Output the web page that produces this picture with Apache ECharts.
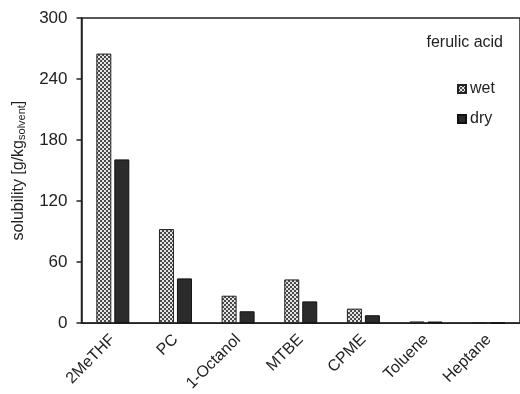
<!DOCTYPE html>
<html><head><meta charset="utf-8">
<script src="https://cdn.jsdelivr.net/npm/echarts@6/dist/echarts.min.js"></script>
<style>html,body{margin:0;padding:0;background:#fff}#c{width:520px;height:394px}</style>
</head><body><div id="c"></div>
<script>
const categories = ['2MeTHF','PC','1-Octanol','MTBE','CPME','Toluene','Heptane'];
const wetValues = [265, 92.5, 27, 43, 14.3, 1.7, 0.4];
const dryValues = [161, 44, 11.7, 21.4, 7.8, 1.6, 0.4];
const yTicks = [0, 60, 120, 180, 240, 300];
const seriesNames = ['wet', 'dry'];

function makePattern() {
  const c = document.createElement('canvas');
  c.width = 4; c.height = 4;
  const g = c.getContext('2d');
  g.fillStyle = '#e4e4e4'; g.fillRect(0,0,4,4);
  g.fillStyle = '#4a4a4a'; g.fillRect(0,0,2,2); g.fillRect(2,2,2,2);
  return c;
}

const font = '"Liberation Sans", Arial, sans-serif';
const chart = echarts.init(document.getElementById('c'), null, {renderer:'canvas'});
chart.setOption({
  animation: false,
  backgroundColor: '#fff',
  textStyle: {fontFamily: font, color: '#222'},
  title: {text: 'ferulic acid', right: 12, top: 30,
    textStyle: {fontFamily: font, fontSize: 16, fontWeight: 'normal', color: '#222'}},
  legend: {orient: 'vertical', left: 457, top: 81, padding: 0, itemWidth: 8, itemHeight: 8, itemGap: 14,
    data: seriesNames, icon: 'rect',
    textStyle: {fontFamily: font, fontSize: 16, color: '#222', padding: [0,0,0,-1]}},
  grid: {left: 81.5, top: 18, width: 441, bottom: 68, show: true, borderColor: '#222', borderWidth: 1.5, containLabel: false},
  xAxis: {type: 'category', data: categories,
    axisLine: {lineStyle: {color: '#222', width: 1.5}},
    axisTick: {show: false},
    axisLabel: {rotate: 45, margin: 14, fontFamily: font, fontSize: 16, color: '#222'}},
  yAxis: {type: 'value', min: 0, max: 300, interval: 60,
    name: '{n|solubility [g/kg}{s|solvent}{n|]}',
    nameLocation: 'middle', nameGap: 54,
    nameTextStyle: {rich: {
      n: {fontFamily: font, fontSize: 16, color: '#222', lineHeight: 18},
      s: {fontFamily: font, fontSize: 11, color: '#222', lineHeight: 18, padding: [7,0,0,0]}
    }},
    splitLine: {show: false},
    axisLine: {show: true, lineStyle: {color: '#222', width: 1.5}},
    axisTick: {show: true, inside: false, length: 5, lineStyle: {color: '#222', width: 1.5}},
    axisLabel: {margin: 14, fontFamily: font, fontSize: 17, color: '#222',
      formatter: v => yTicks.includes(v) ? String(v) : ''}},
  series: [
    {name: seriesNames[0], type: 'bar', data: wetValues, barWidth: 15, barGap: '20%',
      itemStyle: {color: {image: makePattern(), repeat: 'repeat'}, borderColor: '#222', borderWidth: 1}},
    {name: seriesNames[1], type: 'bar', data: dryValues, barWidth: 15,
      itemStyle: {color: '#2b2b2b', borderColor: '#111', borderWidth: 1}}
  ]
});
</script></body></html>
